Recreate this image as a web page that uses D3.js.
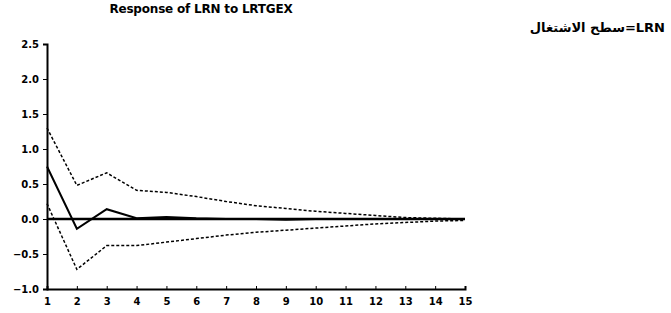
<!DOCTYPE html>
<html><head><meta charset="utf-8">
<script src="https://cdn.jsdelivr.net/npm/d3@7"></script>
<style>body{margin:0;background:#fff}</style>
</head><body>
<script>
const periods = [1,2,3,4,5,6,7,8,9,10,11,12,13,14,15];
const response = [0.75,-0.14,0.14,0.01,0.03,0.01,0.0,0.0,-0.01,0.0,0.0,0.0,0.0,0.0,0.0];
const upperBand = [1.30,0.48,0.66,0.41,0.38,0.32,0.25,0.19,0.15,0.11,0.08,0.05,0.02,0.01,0.0];
const lowerBand = [0.22,-0.72,-0.38,-0.38,-0.33,-0.28,-0.23,-0.19,-0.16,-0.13,-0.10,-0.07,-0.05,-0.03,-0.02];
const yTicks = [-1.0,-0.5,0.0,0.5,1.0,1.5,2.0,2.5];
const title = "Response of LRN to LRTGEX";
const note = "سطح الاشتغال=LRN";

const W=671,H=313;
const svg=d3.select("body").append("svg").attr("width",W).attr("height",H);
const x=d3.scaleLinear().domain([1,15]).range([47,465]);
const y=d3.scaleLinear().domain([-1,2.5]).range([289,44]);

svg.append("text").attr("x",201).attr("y",13).attr("text-anchor","middle")
  .attr("font-family","DejaVu Sans, sans-serif").attr("font-weight","bold")
  .attr("font-size",12).attr("letter-spacing",-0.2).text(title);
svg.append("text").attr("x",665).attr("y",32).attr("text-anchor","end")
  .attr("font-family","DejaVu Sans, sans-serif").attr("font-weight","bold")
  .attr("font-size",13).attr("direction","ltr").text(note);

const yAx=svg.append("g").attr("transform","translate(47,0)")
  .call(d3.axisLeft(y).tickValues(yTicks).tickFormat(d3.format(".1f")).tickSize(4).tickPadding(4));
const xAx=svg.append("g").attr("transform","translate(0,289)")
  .call(d3.axisBottom(x).tickValues(periods).tickFormat(d3.format("d")).tickSize(-3).tickPadding(9));
[yAx,xAx].forEach(g=>{
  g.selectAll("path").attr("stroke","#000").attr("stroke-width",2);
  g.selectAll("line").attr("stroke","#000").attr("stroke-width",1);
  g.selectAll("text").attr("font-family","DejaVu Sans, sans-serif")
    .attr("font-weight","bold").attr("font-size",10).attr("fill","#000");
});

// zero line
svg.append("line").attr("x1",x(1)).attr("x2",x(15)).attr("y1",y(0)).attr("y2",y(0))
  .attr("stroke","#000").attr("stroke-width",2.5);

const line=d3.line().x((d,i)=>x(periods[i])).y(d=>y(d));
svg.append("path").datum(upperBand).attr("d",line).attr("fill","none")
  .attr("stroke","#000").attr("stroke-width",1.5).attr("stroke-dasharray","3,2");
svg.append("path").datum(lowerBand).attr("d",line).attr("fill","none")
  .attr("stroke","#000").attr("stroke-width",1.5).attr("stroke-dasharray","3,2");
svg.append("path").datum(response).attr("d",line).attr("fill","none")
  .attr("stroke","#000").attr("stroke-width",2);
</script>
</body></html>
